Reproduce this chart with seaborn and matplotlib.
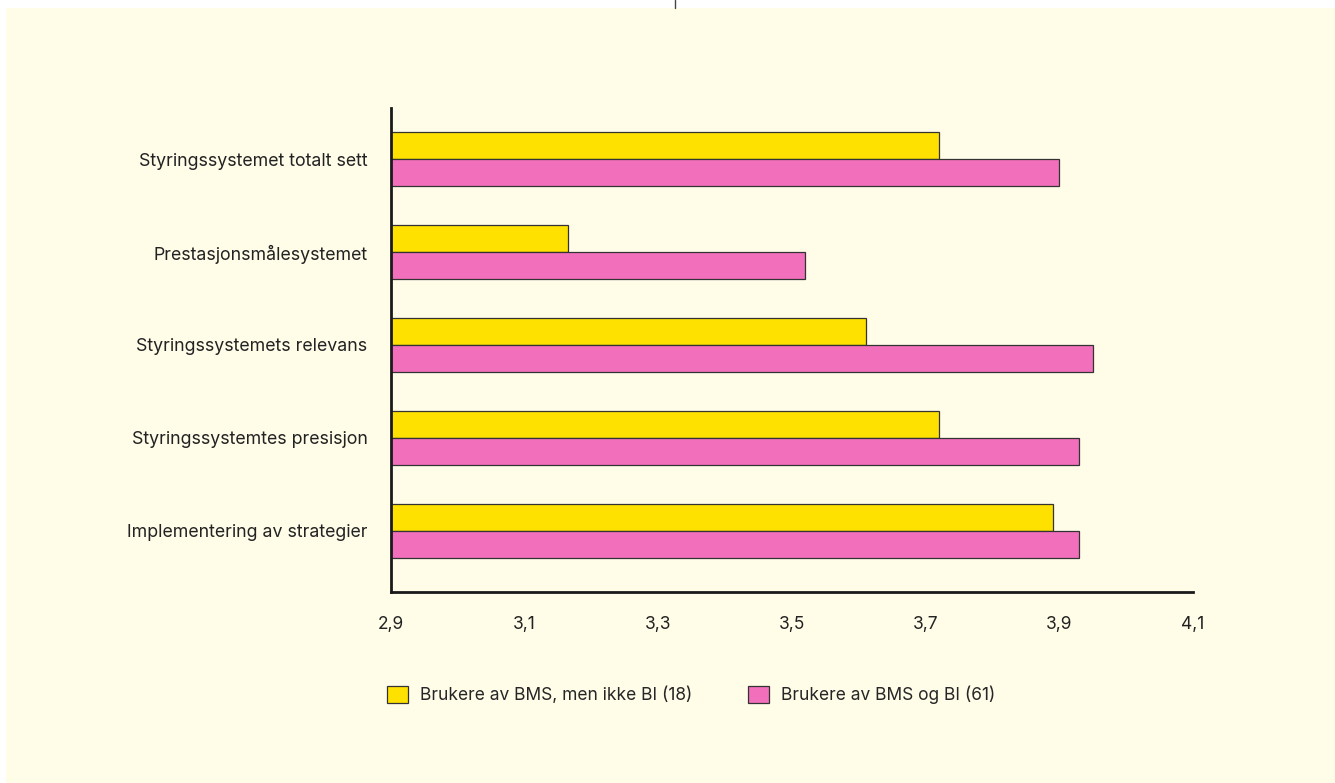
import matplotlib
matplotlib.use("Agg")
import matplotlib.pyplot as plt
import matplotlib.patches as mpatches
import seaborn as sns
import pandas as pd

categories = [
    "Styringssystemet totalt sett",
    "Prestasjonsmålesystemet",
    "Styringssystemets relevans",
    "Styringssystemtes presisjon",
    "Implementering av strategier",
]
series_names = ["Brukere av BMS, men ikke BI (18)", "Brukere av BMS og BI (61)"]
bms_only = [3.72, 3.165, 3.61, 3.72, 3.89]
bms_bi = [3.90, 3.52, 3.95, 3.93, 3.93]
x_ticks = [2.9, 3.1, 3.3, 3.5, 3.7, 3.9, 4.1]
x_tick_labels = ["2,9", "3,1", "3,3", "3,5", "3,7", "3,9", "4,1"]

bg = "#FFFCE8"
colors = ["#FFE100", "#F26FBB"]

df = pd.DataFrame({
    "kategori": categories * 2,
    "gruppe": [series_names[0]] * 5 + [series_names[1]] * 5,
    "verdi": bms_only + bms_bi,
})

sns.set_style("white")
plt.rcParams["font.family"] = ["Inter", "DejaVu Sans"]

fig = plt.figure(figsize=(13.35, 7.83), dpi=100)
fig.patch.set_facecolor("white")
panel = mpatches.Rectangle((6 / 1335, 0), 1 - 6 / 1335, 1 - 8 / 783,
                           transform=fig.transFigure, facecolor=bg,
                           edgecolor="none", zorder=-10)
fig.add_artist(panel)
fig.add_artist(plt.Line2D([675 / 1335, 675 / 1335], [1 - 8 / 783, 1],
                          transform=fig.transFigure, color="#444444", lw=1))

ax = fig.add_axes([391 / 1335, 1 - 592 / 783, 802 / 1335, 484 / 783])
ax.set_facecolor("none")

sns.barplot(data=df, y="kategori", x="verdi", hue="gruppe", orient="h",
            palette=colors, saturation=1, width=0.58, edgecolor="#333333",
            linewidth=0.9, ax=ax, legend=False)

ax.set_xlim(2.9, 4.1)
ax.set_ylim(4.66, -0.55)
ax.set_xticks(x_ticks)
ax.set_xticklabels(x_tick_labels, fontsize=12.5, color="#222222")
ax.tick_params(axis="y", labelsize=12.8, labelcolor="#222222", pad=17, length=0)
ax.tick_params(axis="x", pad=17, length=0)
ax.set_xlabel("")
ax.set_ylabel("")
for s in ["top", "right"]:
    ax.spines[s].set_visible(False)
for s in ["left", "bottom"]:
    ax.spines[s].set_color("#1a1a1a")
    ax.spines[s].set_linewidth(2)

handles = [mpatches.Patch(facecolor=c, edgecolor="#333333", linewidth=0.9) for c in colors]
fig.legend(handles, series_names, loc="center", bbox_to_anchor=(691 / 1335, 1 - 695 / 783),
           ncol=2, frameon=False, fontsize=12.5, handlelength=1.2, handleheight=1.2,
           columnspacing=3.2, handletextpad=0.7)

fig.savefig("out.png", dpi=100, facecolor=fig.get_facecolor())
